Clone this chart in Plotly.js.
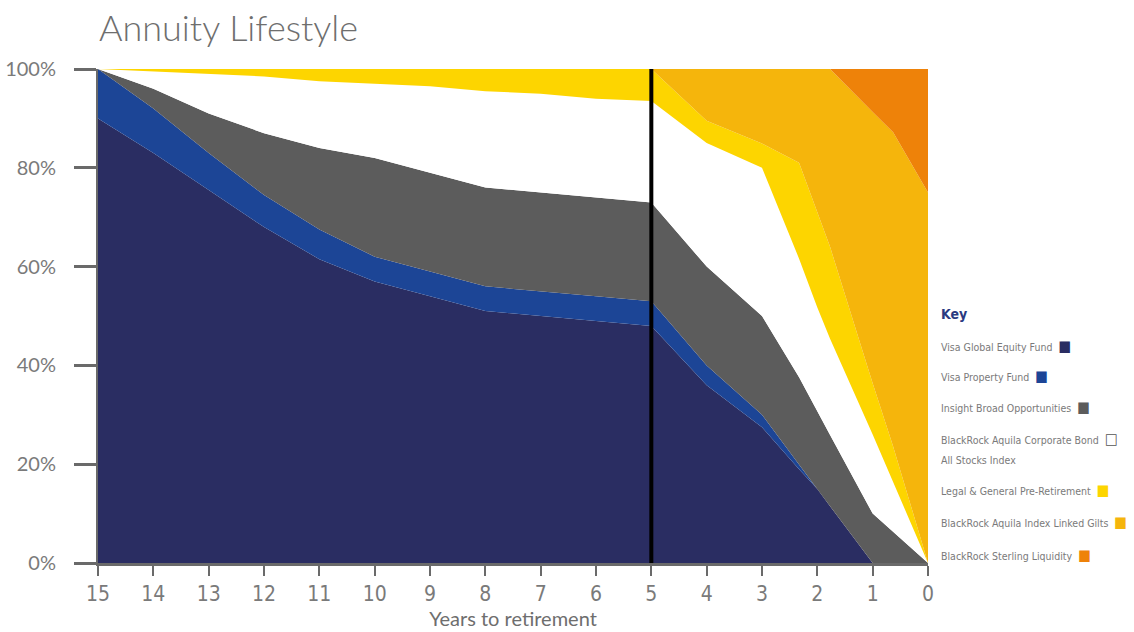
<!DOCTYPE html>
<html>
<head>
<meta charset="utf-8">
<script src="https://cdn.plot.ly/plotly-3.0.1.min.js"></script>
<style>
  html, body { margin: 0; padding: 0; background: #ffffff; }
  #chart { width: 1134px; height: 632px; }
</style>
</head>
<body>
<div id="chart"></div>
<script>
// ---- Data (percent allocation by years to retirement) ----
const years = [15, 14, 13, 12, 11, 10, 9, 8, 7, 6, 5, 4, 3, 2.33, 2, 1.77, 1, 0.63, 0];
const yearTicks = [15, 14, 13, 12, 11, 10, 9, 8, 7, 6, 5, 4, 3, 2, 1, 0];
const percentTicks = [0, 20, 40, 60, 80, 100];

const globalEquity      = [90, 83, 75.5, 68, 61.5, 57, 54, 51, 50, 49, 48, 36, 27.5, 19, 15, 11.5, 0, 0, 0];
const propertyFund      = [10, 9, 7.5, 6.5, 6, 5, 5, 5, 5, 5, 5, 4, 2.5, 0.8, 0, 0, 0, 0, 0];
const insightBroad      = [0, 4, 8, 12.5, 16.5, 20, 20, 20, 20, 20, 20, 20, 20, 17.8, 15.7, 14.4, 10, 6.2, 0];
const corporateBond     = [0, 3.5, 8, 11.5, 13.5, 15, 17.5, 19.5, 20, 20, 20.5, 25, 30, 24, 21, 19.5, 16, 10, 0];
const preRetirement     = [0, 0.5, 1, 1.5, 2.5, 3, 3.5, 4.5, 5, 6, 6.5, 4.5, 4.9, 19.4, 19.3, 18.6, 10.4, 7.4, 0];
const indexLinkedGilts  = [0, 0, 0, 0, 0, 0, 0, 0, 0, 0, 0, 10.5, 15.1, 19, 29, 36, 54.9, 63.6, 75];
const sterlingLiquidity = [0, 0, 0, 0, 0, 0, 0, 0, 0, 0, 0, 0, 0, 0, 0, 0, 8.7, 12.8, 25];

const seriesNames = [
  'Visa Global Equity Fund',
  'Visa Property Fund',
  'Insight Broad Opportunities',
  'BlackRock Aquila Corporate Bond<br>All Stocks Index',
  'Legal & General Pre-Retirement',
  'BlackRock Aquila Index Linked Gilts',
  'BlackRock Sterling Liquidity'
];
const seriesValues = [globalEquity, propertyFund, insightBroad, corporateBond, preRetirement, indexLinkedGilts, sterlingLiquidity];
const seriesColors = ['#2a2d62', '#1c4596', '#5c5c5c', '#ffffff', '#fdd500', '#f5b50c', '#ee8209'];

const retirementMarkerYear = 5;

// ---- Traces ----
const traces = seriesValues.map((vals, i) => ({
  type: 'scatter',
  mode: 'lines',
  x: years,
  y: vals,
  name: seriesNames[i].replace('<br>', ' '),
  stackgroup: 'alloc',
  line: { width: 0, color: seriesColors[i] },
  fillcolor: seriesColors[i],
  hoverinfo: 'skip',
  showlegend: false
}));

// ---- Custom key (text followed by coloured square) ----
const condensed = 'DejaVu Sans Condensed, Roboto, sans-serif';
const keyX = (939 - 98) / 830;
const keyYpx = [346, 376, 407, 439, 490, 522, 555];
const pxToPaperY = py => (563 - py) / 494;
const annotations = [];
annotations.push({
  xref: 'paper', yref: 'paper', x: keyX, y: pxToPaperY(314),
  xanchor: 'left', yanchor: 'middle', showarrow: false,
  text: 'Key',
  font: { family: condensed, size: 14, color: '#2b3a80', weight: 700 }
});
seriesNames.forEach((nm, i) => {
  const lines = nm.split('<br>');
  const swatch = seriesColors[i] === '#ffffff'
    ? '<span style="color:#555555;font-size:15px">□</span>'
    : '<span style="color:' + seriesColors[i] + ';font-size:15px">■</span>';
  annotations.push({
    xref: 'paper', yref: 'paper', x: keyX, y: pxToPaperY(keyYpx[i]),
    xanchor: 'left', yanchor: 'middle', showarrow: false, align: 'left',
    text: lines[0] + '  ' + swatch,
    font: { family: condensed, size: 10.5, color: '#7a7a7a' }
  });
  if (lines.length > 1) {
    annotations.push({
      xref: 'paper', yref: 'paper', x: keyX, y: pxToPaperY(keyYpx[i] + 21),
      xanchor: 'left', yanchor: 'middle', showarrow: false, align: 'left',
      text: lines[1],
      font: { family: condensed, size: 10.5, color: '#7a7a7a' }
    });
  }
});

const layout = {
  width: 1134,
  height: 632,
  margin: { l: 98, r: 206, t: 69, b: 69, pad: 0 },
  paper_bgcolor: '#ffffff',
  plot_bgcolor: '#ffffff',
  showlegend: false,
  hovermode: false,
  title: {
    text: 'Annuity Lifestyle',
    xref: 'container', yref: 'container',
    x: 99 / 1134, xanchor: 'left',
    y: 1 - 28 / 632, yanchor: 'middle',
    font: { family: 'Lato, Open Sans, sans-serif', size: 36, color: '#6e6e6e', weight: 300 }
  },
  xaxis: {
    range: [15, 0],
    tickmode: 'array',
    tickvals: yearTicks,
    ticktext: yearTicks.map(String),
    ticks: 'outside',
    ticklen: 10,
    tickwidth: 2,
    tickcolor: '#6a6a6a',
    showline: true,
    linecolor: '#6a6a6a',
    linewidth: 3,
    showgrid: false,
    zeroline: false,
    tickfont: { family: condensed, size: 21, color: '#7a7a7a' },
    title: {
      text: 'Years to retirement',
      standoff: 4,
      font: { family: 'Lato, Open Sans, sans-serif', size: 20, color: '#6e6e6e' }
    }
  },
  yaxis: {
    range: [0, 100],
    tickmode: 'array',
    tickvals: percentTicks,
    ticktext: percentTicks.map(v => v + '%'),
    ticks: 'outside',
    ticklen: 22,
    tickwidth: 3,
    tickcolor: '#6a6a6a',
    ticklabelstandoff: 14,
    showline: true,
    linecolor: '#6a6a6a',
    linewidth: 2,
    showgrid: false,
    zeroline: false,
    tickfont: { family: 'Lato, Open Sans, sans-serif', size: 20, color: '#7a7a7a' }
  },
  shapes: [{
    type: 'line', xref: 'x', yref: 'y',
    x0: retirementMarkerYear, x1: retirementMarkerYear, y0: 0, y1: 100,
    line: { color: '#000000', width: 4 },
    layer: 'above'
  }],
  annotations: annotations
};

Plotly.newPlot('chart', traces, layout, { staticPlot: true, displayModeBar: false });
</script>
</body>
</html>
